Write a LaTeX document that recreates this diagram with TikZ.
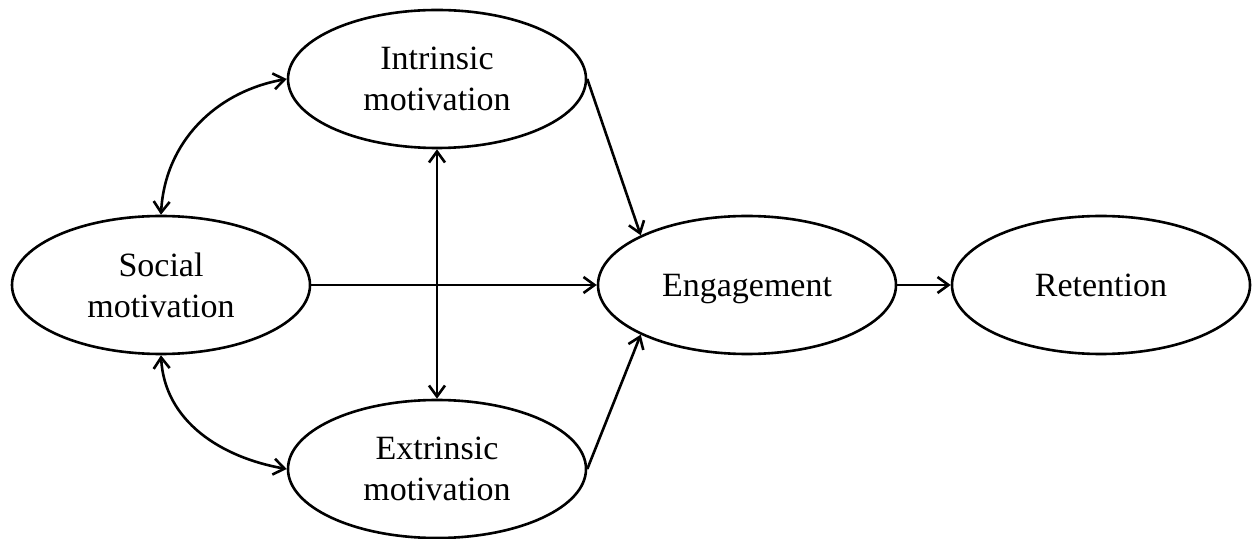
\documentclass[tikz,border=0pt]{standalone}
\usepackage{fontspec}
\setmainfont{Liberation Serif}
\usepackage{tikz}
\usetikzlibrary{shapes.geometric}
\usetikzlibrary{arrows.meta}

\begin{document}
\begin{tikzpicture}[x=0.5pt, y=-0.5pt, line width=1.3pt,
    >={Straight Barb[length=5.5pt, width=8pt]},
    var/.style={ellipse, draw, fill=white, inner sep=0pt,
        minimum width=149pt, minimum height=69pt, align=center,
        font=\fontsize{17}{20.5}\selectfont}]

\useasboundingbox (0,0) rectangle (1252,539);

% Motivation constructs
\node[var] (soc) at (161,285) {Social\\motivation};
\node[var] (intr) at (437,79) {Intrinsic\\motivation};
\node[var] (extr) at (437,469) {Extrinsic\\motivation};

% Outcomes
\node[var, text depth=0pt] (eng) at (747,285) {Engagement};
\node[var, text depth=0pt] (ret) at (1101,285) {Retention};

% Correlations
\draw[<->] (soc.north) to[out=87, in=190] (intr.west);
\draw[<->] (soc.south) to[out=-87, in=170] (extr.west);
\draw[<->] (intr) -- (extr);

% Paths to engagement
\draw[->] (soc) -- (eng);
\draw[->] (intr.east) -- (eng.north west);
\draw[->] (extr.east) -- (eng.south west);
\draw[->] (eng) -- (ret);

\end{tikzpicture}
\end{document}
